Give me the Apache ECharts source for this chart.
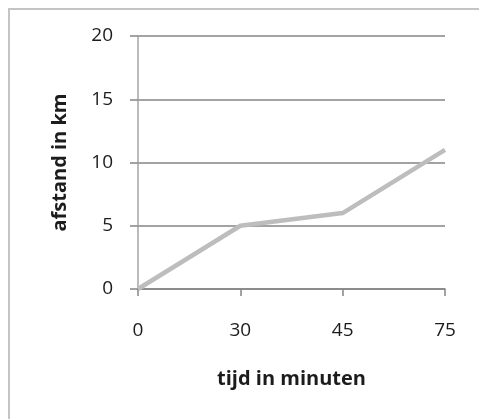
<!DOCTYPE html>
<html>
<head>
<meta charset="utf-8">
<style>
  html, body { margin: 0; padding: 0; background: #ffffff; }
  #chart { width: 479px; height: 419px; }
</style>
<script src="https://cdn.jsdelivr.net/npm/echarts@6/dist/echarts.min.js"></script>
</head>
<body>
<div id="chart"></div>
<script>
// Time stamps (minutes) and distance covered (km)
const timeCategories = ['0', '30', '45', '75'];
const distanceKm = [0, 5, 6, 11];
const yTicks = { min: 0, max: 20, interval: 5 };

const FONT = '"Open Sans", "DejaVu Sans", sans-serif';
const TEXT = '#1c1c1c';

const chart = echarts.init(document.getElementById('chart'), null, { renderer: 'canvas' });

chart.setOption({
  backgroundColor: '#ffffff',
  animation: false,
  graphic: [{
    type: 'rect',
    shape: { x: 9, y: 9, width: 520, height: 460 },
    style: { fill: 'none', stroke: '#c4c4c4', lineWidth: 2 },
    silent: true,
    z: -1
  }],
  grid: { left: 138, right: 34, top: 36, bottom: 130 },
  xAxis: {
    type: 'category',
    data: timeCategories,
    boundaryGap: false,
    name: 'tijd in minuten',
    nameLocation: 'middle',
    nameGap: 80,
    nameTextStyle: { fontFamily: FONT, fontSize: 20, fontWeight: 'bold', color: TEXT },
    axisLine: { show: true, lineStyle: { color: '#858585', width: 1.5 } },
    axisTick: { show: true, alignWithLabel: true, length: 7, lineStyle: { color: '#858585', width: 1.5 } },
    axisLabel: { margin: 32, fontFamily: FONT, fontSize: 19, color: TEXT },
    splitLine: { show: false }
  },
  yAxis: {
    type: 'value',
    min: yTicks.min,
    max: yTicks.max,
    interval: yTicks.interval,
    name: 'afstand in km',
    nameLocation: 'middle',
    nameGap: 68,
    nameTextStyle: { fontFamily: FONT, fontSize: 20, fontWeight: 'bold', color: TEXT },
    axisLine: { show: true, lineStyle: { color: '#a6a6a6', width: 1.5 } },
    axisTick: { show: true, length: 8, lineStyle: { color: '#858585', width: 1.5 } },
    axisLabel: { margin: 25, fontFamily: FONT, fontSize: 19, color: TEXT },
    splitLine: { show: true, lineStyle: { color: '#858585', width: 1.5 } }
  },
  series: [{
    type: 'line',
    data: distanceKm,
    showSymbol: false,
    symbol: 'none',
    lineStyle: { color: '#bdbdbd', width: 4.5 },
    z: 3
  }]
});
</script>
</body>
</html>
